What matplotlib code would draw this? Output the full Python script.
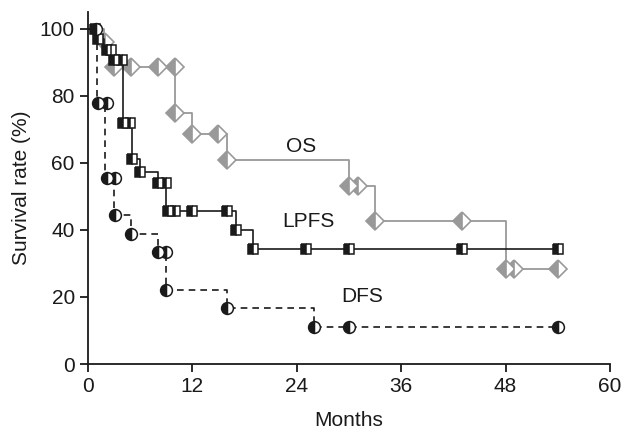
import matplotlib.pyplot as plt

plt.rcParams['font.family'] = ['Liberation Sans', 'DejaVu Sans']

# Overall survival (OS)
os_t = [0, 1.8, 2.4, 3, 10, 12, 16, 30, 33, 48, 54]
os_v = [100, 97, 94, 88.5, 75, 68.5, 60.8, 53.2, 42.8, 28.4, 28.4]
os_mt = [1.9, 3, 5, 8, 10, 10, 12, 15, 16, 30, 31, 33, 43, 48, 49, 54]
os_mv = [96, 88.5, 88.5, 88.5, 88.5, 75, 68.5, 68.5, 60.8, 53.2, 53.2, 42.8, 42.8, 28.4, 28.4, 28.4]

# Local progression-free survival (LPFS)
lp_t = [0, 1, 1.8, 2.6, 4, 5.1, 6, 8, 9, 17, 19, 54]
lp_v = [100, 96.9, 93.8, 90.6, 72, 61.2, 57.4, 54, 45.7, 40, 34.3, 34.3]
lp_mt = [0.8, 1.2, 2.2, 2.7, 3, 3.9, 4, 4.8, 5.1, 6, 8, 9, 9.2, 10, 12, 16, 17, 19, 25, 30, 43, 54]
lp_mv = [100, 96.9, 93.8, 93.8, 90.6, 90.6, 72, 72, 61.2, 57.4, 54, 54, 45.7, 45.7, 45.7, 45.7, 40, 34.3, 34.3, 34.3, 34.3, 34.3]

# Disease-free survival (DFS)
dfs_t = [0, 1, 2, 3, 5, 8, 9, 16, 26, 54]
dfs_v = [100, 77.8, 55.6, 44.4, 38.9, 33.3, 22.2, 16.7, 11.1, 11.1]
dfs_mt = [0.9, 1.1, 2.2, 2.2, 3.1, 3.1, 5, 8, 9, 9, 16, 26, 30, 54]
dfs_mv = [100, 77.8, 77.8, 55.6, 55.6, 44.4, 38.9, 33.3, 33.3, 22.2, 16.7, 11.1, 11.1, 11.1]

gray = '#999999'
dark = '#1a1a1a'

fig = plt.figure(figsize=(6.24, 4.29), dpi=100)
ax = fig.add_axes([0.141, 0.1515, 0.8366, 0.8205])

ax.step(os_t, os_v, where='post', color=gray, lw=1.3, zorder=2)
ax.plot(os_mt, os_mv, ls='none', marker='D', ms=9, fillstyle='left',
        markerfacecolor=gray, markerfacecoloralt='white', markeredgecolor=gray,
        mew=1.2, zorder=3)

ax.step(lp_t, lp_v, where='post', color=dark, lw=1.2, zorder=4)
ax.plot(lp_mt, lp_mv, ls='none', marker='s', ms=7, fillstyle='left',
        markerfacecolor=dark, markerfacecoloralt='white', markeredgecolor=dark,
        mew=1.1, zorder=5)

ax.step(dfs_t, dfs_v, where='post', color=dark, lw=1.2, ls=(0, (4, 3)), zorder=4)
ax.plot(dfs_mt, dfs_mv, ls='none', marker='o', ms=8.5, fillstyle='left',
        markerfacecolor=dark, markerfacecoloralt='white', markeredgecolor=dark,
        mew=1.1, zorder=5)

ax.text(24.5, 65, 'OS', fontsize=15, ha='center', va='center', color=dark)
ax.text(25.3, 42.4, 'LPFS', fontsize=15, ha='center', va='center', color=dark)
ax.text(31.5, 20, 'DFS', fontsize=15, ha='center', va='center', color=dark)

ax.set_xlim(0, 60)
ax.set_ylim(0, 105)
ax.set_xticks([0, 12, 24, 36, 48, 60])
ax.set_yticks([0, 20, 40, 60, 80, 100])
ax.spines['top'].set_visible(False)
ax.spines['right'].set_visible(False)
for s in ('left', 'bottom'):
    ax.spines[s].set_linewidth(1.3)
    ax.spines[s].set_color(dark)
ax.tick_params(direction='out', length=6, width=1.3, labelsize=15, colors=dark)
ax.set_xlabel('Months', fontsize=15, labelpad=11, color=dark)
ax.set_ylabel('Survival rate (%)', fontsize=15, labelpad=6, color=dark)

fig.savefig('out.png', dpi=100)
